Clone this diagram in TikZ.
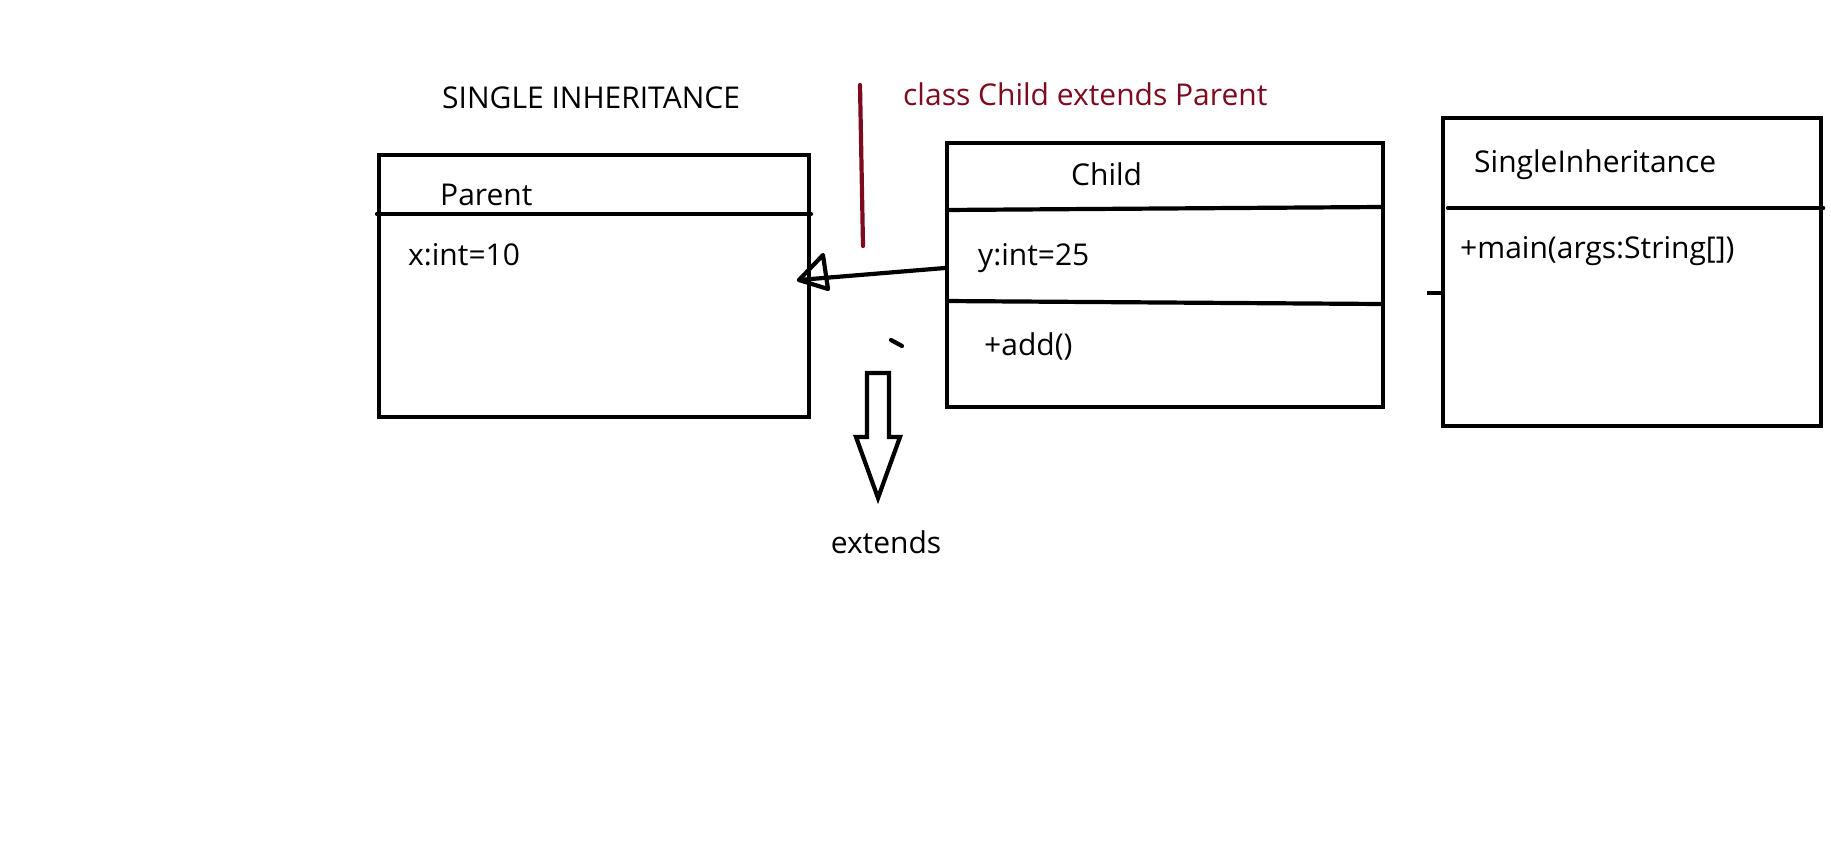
\documentclass[tikz,border=0pt]{standalone}
\usepackage{fontspec}
\setmainfont{Open Sans}
\definecolor{darkred}{HTML}{7E0A1E}
\begin{document}
\begin{tikzpicture}[x=1pt,y=-1pt,
  lw/.style={line width=4.2pt},
  umlbox/.style={draw,lw,minimum width=#1,inner sep=0pt,anchor=north west},
  txt/.style={anchor=base west,inner sep=0pt,font=\fontsize{30}{36}\selectfont}]
\useasboundingbox (0,0) rectangle (1831,846);
% title
\node[txt] (title) at (442,108) {SINGLE INHERITANCE};
\node[txt,text=darkred] (code) at (903,105) {class Child extends Parent};
\draw[darkred,line width=4.2pt,line cap=round] (860,85) coordinate (r1) -- (863,246) coordinate (r2);
% Parent
\node[umlbox=430pt,minimum height=262pt] (parent) at (377,153) {};
\draw[lw,line cap=round] (parent.west |- 0,214) -- (811,214);
\node[txt] (pname) at (440,205) {Parent};
\node[txt] (pattr) at (408,265) {x:int=10};
% Child
\node[umlbox=436pt,minimum height=264pt] (child) at (945,141) {};
\draw[lw] (child.west |- 0,210) -- (1381,207);
\draw[lw] (child.west |- 0,301) -- (1381,304);
\node[txt] (cname) at (1071,185) {Child};
\node[txt] (cattr) at (978,265) {y:int=25};
\node[txt] (cop) at (984,355) {+add()};
% SingleInheritance
\node[umlbox=378pt,minimum height=308pt] (main) at (1441,116) {};
\draw[lw,line cap=round] (1448,208) -- (main.east |- 0,208);
\node[txt] (mname) at (1474,172) {SingleInheritance};
\node[txt] (mop) at (1460,258) {+main(args:String[])};
\draw[lw] (1427,293) -- (main.west |- 0,293);
% inheritance arrow
\coordinate (tip) at (799,280);
\draw[lw,line cap=round] (child.west |- 0,268) -- (tip);
\draw[lw,line cap=round,line join=round] (823,255) -- (tip) -- (828,289) -- cycle;
\draw[lw,line cap=round] (891,340) -- (902,346);
% block arrow
\node[txt,anchor=base] (ext) at (886,553) {extends};
\draw[lw,line join=miter] (867,437) -- (867,373) -- (889,373) -- (889,437) -- (900,437) -- (878,498) -- (856,437) -- cycle;
\end{tikzpicture}
\end{document}
